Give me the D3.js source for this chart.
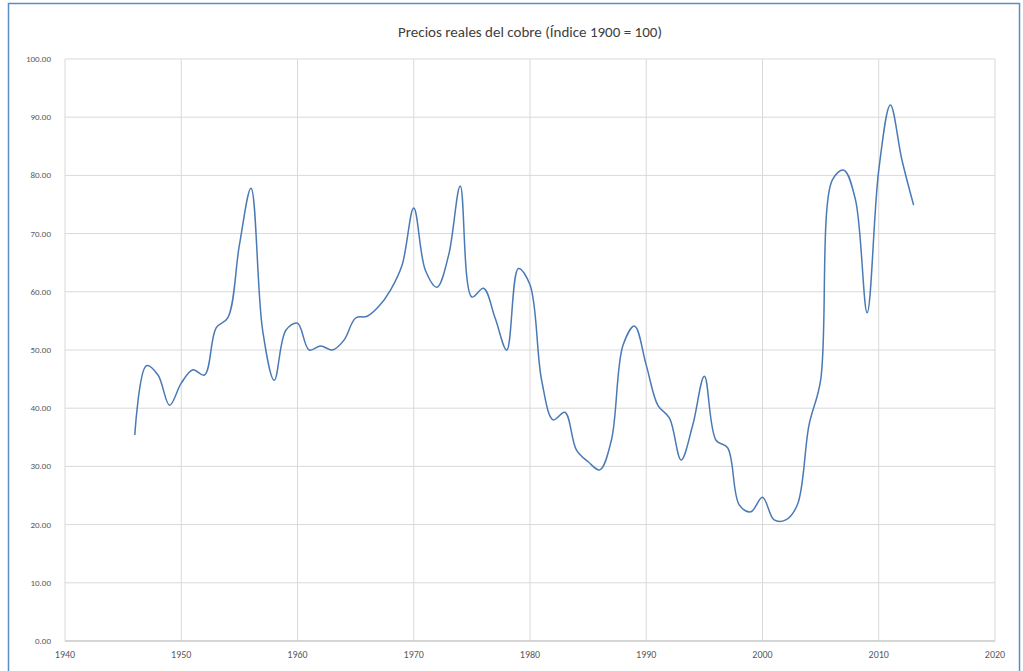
<!DOCTYPE html>
<html><head><meta charset="utf-8">
<script src="https://cdn.jsdelivr.net/npm/d3@7"></script>
<style>body{margin:0;background:#fff;font-family:Calibri,"Liberation Sans",Arial,sans-serif}</style>
</head><body>
<div id="chart"></div>
<script>
var years = d3.range(1946, 2014);
var prices = [35.4,47.3,45.7,40.5,44.3,46.6,45.7,53.8,55.5,68,77.8,53.4,44.8,53.4,54.6,50,50.7,50,51.7,55.5,
  55.8,57.5,60.3,64.6,74.4,63.7,60.8,66.3,78.2,59.1,60.6,55.5,50,64,61.2,44.8,38,39.3,32.8,30.8,
  29.4,34.5,50.8,54.1,47.4,40.5,38.3,31.1,37.1,45.5,34.5,33.2,23.4,22.2,24.7,20.8,20.8,23.4,37.1,44.8,
  79.2,80.9,75.8,56.4,80.9,92.1,82.6,74.9];
var xTicks = d3.range(1940, 2021, 10);
var yTicks = d3.range(0, 101, 10);
var title = "Precios reales del cobre (Índice 1900 = 100)";

var width = 1023, height = 671;
var margin = {top: 59, right: 28, bottom: 30, left: 65};

var svg = d3.select("#chart").append("svg").attr("width", width).attr("height", height);
svg.append("rect").attr("x", 8.5).attr("y", 3.5).attr("width", width - 12).attr("height", height + 10)
  .attr("fill", "none").attr("stroke", "#5b8cc8").attr("stroke-width", 1.5);

var x = d3.scaleLinear().domain([1940, 2020]).range([margin.left, width - margin.right]);
var y = d3.scaleLinear().domain([0, 100]).range([height - margin.bottom, margin.top]);

// gridlines
svg.append("g").selectAll("line").data(yTicks).enter().append("line")
  .attr("x1", x(1940)).attr("x2", x(2020)).attr("y1", d => y(d)).attr("y2", d => y(d))
  .attr("stroke", "#d9d9d9");
svg.append("g").selectAll("line").data(xTicks).enter().append("line")
  .attr("y1", y(0)).attr("y2", y(100)).attr("x1", d => x(d)).attr("x2", d => x(d))
  .attr("stroke", "#d9d9d9");
svg.append("line").attr("x1", x(1940)).attr("x2", x(2020)).attr("y1", y(0)).attr("y2", y(0)).attr("stroke", "#bfbfbf");

svg.append("g").selectAll("text").data(yTicks).enter().append("text")
  .attr("x", margin.left - 14).attr("y", d => y(d) + 3).attr("text-anchor", "end")
  .attr("font-size", 9).attr("fill", "#595959").text(d => d.toFixed(2));
svg.append("g").selectAll("text").data(xTicks).enter().append("text")
  .attr("x", d => x(d)).attr("y", y(0) + 17).attr("text-anchor", "middle")
  .attr("font-size", 10).attr("fill", "#595959").text(d => d);

svg.append("text").attr("x", (x(1940) + x(2020)) / 2).attr("y", 37).attr("text-anchor", "middle")
  .attr("font-size", 15).attr("fill", "#404040").text(title);

var line = d3.line().x((d, i) => x(years[i])).y(d => y(d)).curve(d3.curveCatmullRom.alpha(0.5));
svg.append("path").datum(prices).attr("d", line).attr("fill", "none")
  .attr("stroke", "#4a7ab5").attr("stroke-width", 1.5);
</script>
</body></html>
